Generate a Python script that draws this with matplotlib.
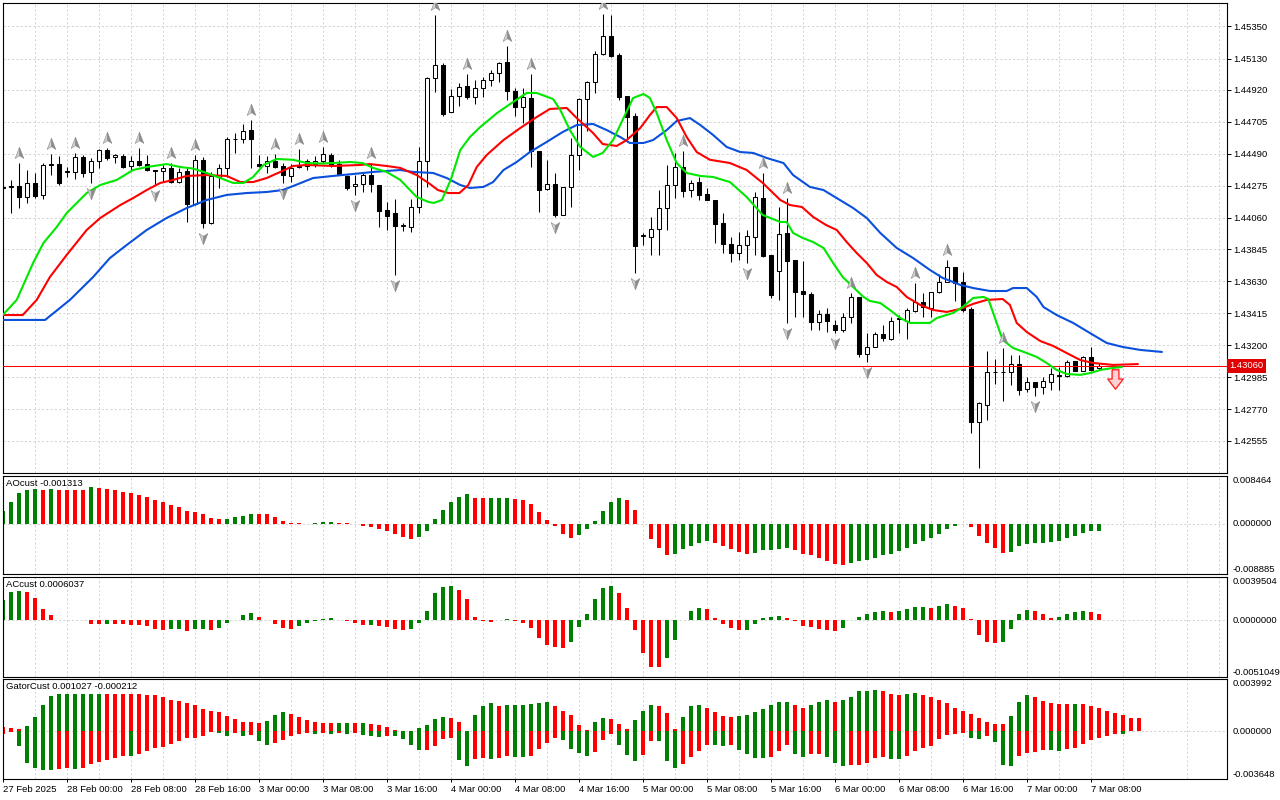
"""
EURUSD-style H1 chart: candles + alligator + fractals, with AO, AC and Gator panes
"""
import numpy as np
import matplotlib
matplotlib.use("Agg")
import matplotlib.pyplot as plt
from matplotlib.path import Path
from matplotlib import transforms

# ---- candles (one per hour, first bar = 27 Feb 16:00) ----
opens = [
    1.44262, 1.44268, 1.44272, 1.44196, 1.44290, 1.44212, 1.44414, 1.44420, 1.44369, 1.44369,
    1.44468, 1.44369, 1.44438, 1.44513, 1.44465, 1.44477, 1.44407, 1.44438, 1.44418, 1.44378,
    1.44373, 1.44391, 1.44301, 1.44373, 1.44149, 1.44447, 1.44021, 1.44335, 1.44391, 1.44587,
    1.44587, 1.44649, 1.44420, 1.44407, 1.44441, 1.44407, 1.44342, 1.44409, 1.44407, 1.44418,
    1.44438, 1.44481, 1.44420, 1.44342, 1.44272, 1.44284, 1.44346, 1.44279, 1.44111, 1.44088,
    1.44005, 1.43998, 1.44129, 1.44438, 1.44997, 1.45087, 1.44768, 1.44881, 1.44946, 1.44874,
    1.44930, 1.44984, 1.45031, 1.45107, 1.44914, 1.44802, 1.44863, 1.44508, 1.44250, 1.44286,
    1.44077, 1.44263, 1.44481, 1.44858, 1.44975, 1.45161, 1.45283, 1.45155, 1.44878, 1.44744,
    1.43936, 1.43927, 1.43980, 1.44122, 1.44279, 1.44398, 1.44245, 1.44299, 1.44218, 1.44178,
    1.44025, 1.43880, 1.43819, 1.43875, 1.43931, 1.44189, 1.43808, 1.43702, 1.43954, 1.43774,
    1.43565, 1.43543, 1.43354, 1.43408, 1.43336, 1.43300, 1.43392, 1.43527, 1.43141, 1.43191,
    1.43274, 1.43240, 1.43379, 1.43366, 1.43433, 1.43489, 1.43453, 1.43556, 1.43628, 1.43725,
    1.43628, 1.43442, 1.42685, 1.42798, 1.43022, 1.43022, 1.43022, 1.43071, 1.42903, 1.42950,
    1.42921, 1.42954, 1.42995, 1.42995, 1.43094, 1.43029, 1.43119, 1.43045,
]
highs = [
    1.44268, 1.44313, 1.44425, 1.44380, 1.44358, 1.44425, 1.44488, 1.44477, 1.44403, 1.44492,
    1.44481, 1.44459, 1.44522, 1.44526, 1.44488, 1.44488, 1.44474, 1.44526, 1.44481, 1.44380,
    1.44414, 1.44430, 1.44391, 1.44391, 1.44481, 1.44470, 1.44369, 1.44420, 1.44605, 1.44627,
    1.44690, 1.44717, 1.44480, 1.44474, 1.44488, 1.44425, 1.44420, 1.44522, 1.44454, 1.44474,
    1.44537, 1.44497, 1.44447, 1.44346, 1.44346, 1.44358, 1.44425, 1.44279, 1.44167, 1.44185,
    1.44021, 1.44185, 1.44537, 1.45009, 1.45424, 1.45098, 1.44923, 1.44964, 1.45027, 1.44986,
    1.45009, 1.45054, 1.45110, 1.45215, 1.44930, 1.44930, 1.45027, 1.44508, 1.44447, 1.44358,
    1.44263, 1.44593, 1.44863, 1.44982, 1.45184, 1.45430, 1.45424, 1.45166, 1.44878, 1.44762,
    1.43958, 1.44066, 1.44245, 1.44414, 1.44492, 1.44505, 1.44313, 1.44335, 1.44257, 1.44178,
    1.44088, 1.43927, 1.43965, 1.43976, 1.44234, 1.44358, 1.43808, 1.44133, 1.44189, 1.43774,
    1.43767, 1.43561, 1.43437, 1.43449, 1.43370, 1.43415, 1.43550, 1.43527, 1.43280, 1.43292,
    1.43336, 1.43392, 1.43404, 1.43449, 1.43617, 1.43550, 1.43561, 1.43680, 1.43774, 1.43729,
    1.43696, 1.43460, 1.42820, 1.43160, 1.43105, 1.43178, 1.43134, 1.43134, 1.42988, 1.42950,
    1.42988, 1.43045, 1.43056, 1.43101, 1.43096, 1.43128, 1.43190, 1.43078,
]
lows = [
    1.44255, 1.44088, 1.44122, 1.44156, 1.44189, 1.44185, 1.44346, 1.44279, 1.44335, 1.44319,
    1.44335, 1.44290, 1.44391, 1.44447, 1.44425, 1.44391, 1.44380, 1.44407, 1.44376, 1.44280,
    1.44301, 1.44290, 1.44290, 1.44032, 1.44144, 1.43987, 1.44016, 1.44257, 1.44335, 1.44497,
    1.44560, 1.44391, 1.44403, 1.44358, 1.44391, 1.44295, 1.44301, 1.44391, 1.44380, 1.44403,
    1.44425, 1.44403, 1.44346, 1.44245, 1.44212, 1.44234, 1.44234, 1.43998, 1.43976, 1.43673,
    1.43971, 1.43965, 1.44088, 1.44268, 1.44908, 1.44746, 1.44768, 1.44811, 1.44858, 1.44825,
    1.44869, 1.44946, 1.44975, 1.44852, 1.44744, 1.44699, 1.44403, 1.44095, 1.44245, 1.44066,
    1.44077, 1.44129, 1.44380, 1.44645, 1.44896, 1.45155, 1.45143, 1.44852, 1.44593, 1.43684,
    1.43875, 1.43808, 1.43808, 1.43976, 1.44189, 1.44200, 1.44196, 1.44178, 1.44178, 1.43891,
    1.43819, 1.43763, 1.43774, 1.43752, 1.43808, 1.43796, 1.43520, 1.43505, 1.43348, 1.43388,
    1.43388, 1.43303, 1.43303, 1.43292, 1.43280, 1.43292, 1.43348, 1.43119, 1.43089, 1.43186,
    1.43231, 1.43236, 1.43280, 1.43242, 1.43426, 1.43393, 1.43393, 1.43550, 1.43624, 1.43500,
    1.43422, 1.42607, 1.42371, 1.42697, 1.42939, 1.42827, 1.42932, 1.42865, 1.42887, 1.42855,
    1.42872, 1.42899, 1.42899, 1.42988, 1.43029, 1.43024, 1.43027, 1.43033,
]
closes = [
    1.44265, 1.44270, 1.44196, 1.44290, 1.44207, 1.44414, 1.44418, 1.44295, 1.44372, 1.44468,
    1.44362, 1.44438, 1.44513, 1.44463, 1.44479, 1.44398, 1.44438, 1.44414, 1.44380, 1.44375,
    1.44391, 1.44301, 1.44369, 1.44149, 1.44447, 1.44021, 1.44342, 1.44391, 1.44587, 1.44590,
    1.44643, 1.44587, 1.44405, 1.44438, 1.44403, 1.44346, 1.44391, 1.44403, 1.44438, 1.44443,
    1.44488, 1.44416, 1.44353, 1.44261, 1.44286, 1.44346, 1.44284, 1.44106, 1.44073, 1.44005,
    1.44008, 1.44129, 1.44438, 1.45002, 1.45087, 1.44757, 1.44881, 1.44937, 1.44869, 1.44930,
    1.44984, 1.45031, 1.45098, 1.44914, 1.44802, 1.44869, 1.44508, 1.44245, 1.44284, 1.44077,
    1.44263, 1.44481, 1.44858, 1.44975, 1.45161, 1.45283, 1.45150, 1.44874, 1.44739, 1.43871,
    1.43940, 1.43980, 1.44122, 1.44279, 1.44398, 1.44241, 1.44295, 1.44212, 1.44178, 1.44016,
    1.43880, 1.43819, 1.43875, 1.43936, 1.44196, 1.43801, 1.43538, 1.43947, 1.43770, 1.43561,
    1.43543, 1.43354, 1.43408, 1.43366, 1.43300, 1.43392, 1.43527, 1.43141, 1.43191, 1.43274,
    1.43247, 1.43366, 1.43381, 1.43437, 1.43494, 1.43456, 1.43556, 1.43628, 1.43725, 1.43621,
    1.43437, 1.42685, 1.42809, 1.43022, 1.43018, 1.43018, 1.43071, 1.42899, 1.42950, 1.42921,
    1.42959, 1.43004, 1.42999, 1.43085, 1.43029, 1.43119, 1.43033, 1.43060,
]
current_price = 1.43060

# fractal bars (arrow above the high / below the low)
fractal_up = [2, 6, 9, 13, 17, 21, 24, 31, 34, 37, 40, 46, 54, 58, 63, 66, 75, 85, 95, 98,
              106, 114, 118, 125]
fractal_down = [11, 19, 25, 35, 44, 49, 69, 79, 93, 98, 104, 108, 129]

# sell signal arrow beyond the last bar
signal_bar = 139
signal_price = 1.42972

# ---- alligator lines (bar position, price) ----
jaw_x = [0, 5.3, 8.4, 11.3, 13.4, 15.5, 18, 20.5, 23, 25.5, 28, 30.5, 33, 35, 36.3, 38.8,
         41.3, 43.8, 46.3, 49.7, 51.3, 53.8, 55.5, 57.2, 58.4, 60.1, 61.3, 62.6, 64.25, 65.9,
         68, 70, 71.75, 73.8, 75.5, 77.2, 78.4, 80.1, 81.3, 83, 84.25, 85.9, 87.2, 88.8, 90.5,
         92.2, 93.8, 95.5, 97.6, 98.8, 100.9, 102.6, 104.25, 106.3, 108, 109.7, 111.75, 113.8,
         115.9, 117.5, 119.7, 121.3, 123.4, 125.5, 126.3, 128, 129.25, 130.1, 131.75, 133.8,
         135.9, 138, 140, 142.2, 145]
jaw_y = [1.43370, 1.43370, 1.43505, 1.43659, 1.43787, 1.43875, 1.43976, 1.44057, 1.44124,
         1.44178, 1.44212, 1.44225, 1.44232, 1.44245, 1.44272, 1.44326, 1.44340, 1.44353,
         1.44367, 1.44380, 1.44367, 1.44360, 1.44326, 1.44279, 1.44259, 1.44266, 1.44299,
         1.44380, 1.44434, 1.44501, 1.44569, 1.44636, 1.44683, 1.44690, 1.44649, 1.44602,
         1.44562, 1.44562, 1.44582, 1.44649, 1.44710, 1.44730, 1.44683, 1.44616, 1.44535,
         1.44501, 1.44495, 1.44461, 1.44427, 1.44346, 1.44266, 1.44245, 1.44191, 1.44124,
         1.44057, 1.43956, 1.43855, 1.43787, 1.43707, 1.43653, 1.43606, 1.43585, 1.43565,
         1.43565, 1.43585, 1.43585, 1.43525, 1.43457, 1.43403, 1.43350, 1.43282, 1.43215,
         1.43188, 1.43168, 1.43154]

teeth_x = [0, 2.5, 4.25, 5.9, 8, 10.5, 12.2, 14.7, 16.3, 18, 19.7, 21.3, 23, 25.5, 28, 29.7,
           31.3, 33, 34.7, 36.3, 38, 41.3, 44.7, 45.9, 48, 49.7, 51.75, 53.4, 54.4, 55.7, 57.1,
           58.2, 59.25, 60.5, 62.6, 64.7, 66.75, 68.4, 70.5, 71.75, 73.8, 75, 76.75, 78, 79.7,
           80.9, 81.75, 83, 84.25, 85.5, 86.75, 88.4, 90.9, 93, 95, 97.2, 98.4, 99.9, 101.3,
           102.9, 104.25, 105.5, 106.75, 108, 109.25, 110.5, 111.75, 113, 114.7, 116.3, 118,
           119.7, 121.3, 123, 125, 125.9, 126.75, 128, 129.7, 131.3, 133, 134.7, 136.3, 138.8,
           142]
teeth_y = [1.43403, 1.43403, 1.43505, 1.43659, 1.43808, 1.43976, 1.44057, 1.44144, 1.44191,
           1.44245, 1.44293, 1.44313, 1.44340, 1.44346, 1.44340, 1.44299, 1.44299, 1.44326,
           1.44367, 1.44407, 1.44414, 1.44407, 1.44414, 1.44420, 1.44407, 1.44394, 1.44346,
           1.44286, 1.44245, 1.44225, 1.44225, 1.44279, 1.44400, 1.44481, 1.44582, 1.44663,
           1.44737, 1.44791, 1.44798, 1.44730, 1.44629, 1.44555, 1.44542, 1.44582, 1.44663,
           1.44750, 1.44804, 1.44804, 1.44730, 1.44602, 1.44501, 1.44449, 1.44427, 1.44380,
           1.44293, 1.44178, 1.44144, 1.44131, 1.44064, 1.44010, 1.43976, 1.43895, 1.43821,
           1.43754, 1.43673, 1.43626, 1.43592, 1.43525, 1.43471, 1.43437, 1.43424, 1.43444,
           1.43478, 1.43505, 1.43511, 1.43471, 1.43350, 1.43289, 1.43228, 1.43195, 1.43147,
           1.43100, 1.43080, 1.43067, 1.43073]

lips_x = [0, 1.75, 3.8, 5.1, 6.75, 8, 10.5, 12.2, 14.25, 16.3, 18, 20.5, 22.2, 23.8, 25.5,
          27.2, 28.8, 30.1, 31.3, 32.6, 34.25, 36.3, 38, 39.7, 41.3, 43.4, 45, 46.3, 48, 49.7,
          51.75, 53.2, 53.9, 54.9, 56, 57.2, 58.4, 59.7, 61.8, 63.8, 65.5, 66.75, 68.8, 69.7,
          70.9, 72.2, 73.8, 75, 76.3, 77.6, 78.8, 80.1, 80.9, 81.75, 83, 84.25, 85.5, 87.2,
          88.8, 90.9, 93, 95, 97.2, 98, 98.8, 100, 101.3, 102.6, 103.8, 105, 106.3, 107.6,
          108.4, 109.7, 110.9, 112.2, 113.4, 115.9, 116.75, 118.8, 120, 121.3, 122.6, 123.2,
          124.25, 125, 126.3, 128, 129.25, 130.5, 131.75, 133, 134.7, 136, 137.2, 138.8, 140]
lips_y = [1.43403, 1.43505, 1.43754, 1.43889, 1.43996, 1.44090, 1.44225, 1.44279, 1.44313,
          1.44380, 1.44400, 1.44420, 1.44400, 1.44390, 1.44360, 1.44326, 1.44293, 1.44293,
          1.44333, 1.44414, 1.44454, 1.44449, 1.44427, 1.44424, 1.44427, 1.44434, 1.44427,
          1.44394, 1.44367, 1.44313, 1.44198, 1.44165, 1.44158, 1.44178, 1.44313, 1.44515,
          1.44602, 1.44670, 1.44764, 1.44838, 1.44899, 1.44899, 1.44858, 1.44784, 1.44649,
          1.44535, 1.44468, 1.44495, 1.44582, 1.44730, 1.44865, 1.44892, 1.44865, 1.44764,
          1.44582, 1.44427, 1.44360, 1.44340, 1.44333, 1.44299, 1.44198, 1.44077, 1.44030,
          1.44030, 1.43956, 1.43922, 1.43895, 1.43855, 1.43754, 1.43659, 1.43592, 1.43525,
          1.43498, 1.43484, 1.43437, 1.43383, 1.43350, 1.43350, 1.43383, 1.43417, 1.43457,
          1.43518, 1.43525, 1.43511, 1.43350, 1.43235, 1.43181, 1.43147, 1.43121, 1.43080,
          1.43033, 1.43006, 1.43000, 1.43013, 1.43033, 1.43047, 1.43053]

# ---- oscillators ----
ao = [
    0.00234, 0.00391, 0.00543, 0.00602, 0.00604, 0.00601, 0.00605, 0.00601, 0.00598, 0.00596,
    0.00594, 0.00648, 0.00631, 0.00619, 0.00602, 0.00566, 0.00543, 0.00508, 0.00479, 0.00426,
    0.00391, 0.00333, 0.00292, 0.00234, 0.00199, 0.00164, 0.00105, 0.00076, 0.00093, 0.00111,
    0.00140, 0.00175, 0.00172, 0.00164, 0.00111, 0.00053, 0.00018, 0.00015, 0.00005, 0.00008,
    0.00035, 0.00036, 0.00018, 0.00015, 0.00002, -0.00041, -0.00058, -0.00088, -0.00134, -0.00187,
    -0.00234, -0.00274, -0.00234, -0.00128, 0.00088, 0.00245, 0.00391, 0.00467, 0.00526, 0.00456,
    0.00450, 0.00454, 0.00458, 0.00460, 0.00438, 0.00426, 0.00350, 0.00204, 0.00070, -0.00047,
    -0.00187, -0.00257, -0.00193, -0.00099, 0.00058, 0.00234, 0.00385, 0.00456, 0.00421, 0.00245,
    -0.00005, -0.00263, -0.00432, -0.00555, -0.00537, -0.00450, -0.00397, -0.00345, -0.00310, -0.00345,
    -0.00397, -0.00450, -0.00502, -0.00537, -0.00520, -0.00467, -0.00462, -0.00450, -0.00432, -0.00467,
    -0.00537, -0.00555, -0.00607, -0.00660, -0.00712, -0.00730, -0.00695, -0.00660, -0.00642, -0.00607,
    -0.00555, -0.00537, -0.00485, -0.00432, -0.00362, -0.00310, -0.00257, -0.00187, -0.00099, -0.00047,
    -0.00012, -0.00064, -0.00222, -0.00345, -0.00432, -0.00520, -0.00502, -0.00397, -0.00362, -0.00345,
    -0.00343, -0.00327, -0.00310, -0.00257, -0.00222, -0.00169, -0.00134, -0.001313,
]
ac = [
    0.00185, 0.00255, 0.00264, 0.00262, 0.00201, 0.00100, 0.00046, 0.00009, 0.00003, 0.00004,
    0.00001, -0.00033, -0.00035, -0.00033, -0.00034, -0.00036, -0.00043, -0.00044, -0.00052, -0.00079,
    -0.00082, -0.00080, -0.00078, -0.00097, -0.00080, -0.00078, -0.00088, -0.00070, -0.00025, 0.00002,
    0.00046, 0.00064, 0.00036, 0.00001, -0.00033, -0.00070, -0.00079, -0.00052, -0.00025, -0.00006,
    0.00018, 0.00027, 0.00001, -0.00001, -0.00024, -0.00043, -0.00042, -0.00052, -0.00061, -0.00079,
    -0.00088, -0.00079, -0.00024, 0.00082, 0.00246, 0.00307, 0.00316, 0.00274, 0.00192, 0.00036,
    -0.00009, -0.00010, 0.00001, 0.00018, -0.00002, -0.00024, -0.00070, -0.00161, -0.00225, -0.00240,
    -0.00249, -0.00195, -0.00061, 0.00055, 0.00192, 0.00292, 0.00316, 0.00246, 0.00109, -0.00088,
    -0.00295, -0.00423, -0.00425, -0.00340, -0.00179, 0.00001, 0.00082, 0.00109, 0.00100, 0.00027,
    -0.00033, -0.00070, -0.00088, -0.00086, -0.00033, 0.00027, 0.00036, 0.00038, 0.00027, -0.00002,
    -0.00052, -0.00061, -0.00079, -0.00088, -0.00097, -0.00070, 0.00001, 0.00036, 0.00055, 0.00073,
    0.00082, 0.00073, 0.00082, 0.00100, 0.00119, 0.00120, 0.00118, 0.00128, 0.00146, 0.00128,
    0.00109, 0.00018, -0.00134, -0.00198, -0.00207, -0.00198, -0.00079, 0.00055, 0.00091, 0.00082,
    0.00055, 0.00027, 0.00036, 0.00055, 0.00073, 0.00082, 0.00080, 0.0006037,
]
gator_up = [
    0.00033, 0.00023, 0.00022, 0.00038, 0.00110, 0.00199, 0.00270, 0.00283, 0.00284, 0.00285,
    0.00286, 0.00287, 0.00288, 0.00287, 0.00286, 0.00285, 0.00284, 0.00283, 0.00282, 0.00280,
    0.00267, 0.00242, 0.00232, 0.00216, 0.00199, 0.00173, 0.00153, 0.00145, 0.00117, 0.00094,
    0.00074, 0.00069, 0.00066, 0.00082, 0.00122, 0.00150, 0.00132, 0.00107, 0.00084, 0.00071,
    0.00066, 0.00061, 0.00062, 0.00063, 0.00061, 0.00062, 0.00060, 0.00046, 0.00031, 0.00008,
    0.00002, 0.00003, 0.00023, 0.00046, 0.00092, 0.00107, 0.00106, 0.00069, 0.00001, 0.00122,
    0.00191, 0.00214, 0.00191, 0.00199, 0.00200, 0.00206, 0.00207, 0.00214, 0.00222, 0.00191,
    0.00160, 0.00122, 0.00046, 0.00008, 0.00069, 0.00099, 0.00098, 0.00053, 0.00015, 0.00084,
    0.00153, 0.00199, 0.00191, 0.00138, 0.00015, 0.00107, 0.00191, 0.00206, 0.00176, 0.00145,
    0.00115, 0.00107, 0.00115, 0.00122, 0.00145, 0.00168, 0.00206, 0.00222, 0.00229, 0.00206,
    0.00176, 0.00199, 0.00222, 0.00237, 0.00229, 0.00238, 0.00267, 0.00306, 0.00313, 0.00320,
    0.00310, 0.00290, 0.00282, 0.00290, 0.00297, 0.00282, 0.00264, 0.00241, 0.00221, 0.00182,
    0.00159, 0.00136, 0.00103, 0.00072, 0.00054, 0.00053, 0.00121, 0.00228, 0.00282, 0.00264,
    0.00231, 0.00215, 0.00208, 0.00207, 0.00213, 0.00212, 0.00197, 0.00179, 0.00156, 0.00138,
    0.00123, 0.00105, 0.001027,
]
gator_down = [
    -0.00018, -0.00005, -0.00112, -0.00239, -0.00280, -0.00295, -0.00296, -0.00288, -0.00278, -0.00288,
    -0.00280, -0.00247, -0.00232, -0.00216, -0.00201, -0.00186, -0.00188, -0.00171, -0.00153, -0.00127,
    -0.00120, -0.00099, -0.00076, -0.00053, -0.00048, -0.00036, -0.00006, -0.00010, -0.00036, -0.00015,
    -0.00036, -0.00030, -0.00074, -0.00104, -0.00092, -0.00069, -0.00036, -0.00023, -0.00015, -0.00018,
    -0.00013, -0.00020, -0.00015, -0.00022, -0.00013, -0.00030, -0.00038, -0.00046, -0.00033, -0.00036,
    -0.00059, -0.00104, -0.00143, -0.00142, -0.00112, -0.00059, -0.00051, -0.00222, -0.00265, -0.00214,
    -0.00206, -0.00214, -0.00206, -0.00191, -0.00199, -0.00200, -0.00191, -0.00138, -0.00092, -0.00053,
    -0.00069, -0.00138, -0.00168, -0.00191, -0.00160, -0.00069, -0.00023, -0.00107, -0.00183, -0.00229,
    -0.00183, -0.00076, -0.00077, -0.00229, -0.00283, -0.00252, -0.00199, -0.00153, -0.00107, -0.00108,
    -0.00115, -0.00107, -0.00145, -0.00176, -0.00206, -0.00207, -0.00199, -0.00153, -0.00107, -0.00177,
    -0.00200, -0.00177, -0.00172, -0.00195, -0.00241, -0.00262, -0.00261, -0.00259, -0.00241, -0.00203,
    -0.00195, -0.00213, -0.00215, -0.00185, -0.00149, -0.00126, -0.00110, -0.00056, -0.00031, -0.00023,
    -0.00015, -0.00054, -0.00059, -0.00038, -0.00082, -0.00254, -0.00262, -0.00185, -0.00169, -0.00156,
    -0.00141, -0.00144, -0.00154, -0.00138, -0.00126, -0.00100, -0.00069, -0.00053, -0.00038, -0.00020,
    -0.000212,
]

# ---- axes scales and labels ----
price_ticks = [1.45350, 1.45130, 1.44920, 1.44705, 1.44490, 1.44275, 1.44060, 1.43845,
               1.43630, 1.43415, 1.43200, 1.42985, 1.42770, 1.42555]
price_range = (1.42337, 1.45507)
ao_range = (-0.008885, 0.008464)
ac_range = (-0.0051049, 0.0039504)
gator_range = (-0.003648, 0.003992)
time_labels = ["27 Feb 2025", "28 Feb 00:00", "28 Feb 08:00", "28 Feb 16:00", "3 Mar 00:00",
               "3 Mar 08:00", "3 Mar 16:00", "4 Mar 00:00", "4 Mar 08:00", "4 Mar 16:00",
               "5 Mar 00:00", "5 Mar 08:00", "5 Mar 16:00", "6 Mar 00:00", "6 Mar 08:00",
               "6 Mar 16:00", "7 Mar 00:00", "7 Mar 08:00"]

GREEN = "#008000"
RED = "#ff0000"
GRID = "#d2d2d2"
FS = 6.8

plt.rcParams["font.family"] = ["Liberation Sans", "DejaVu Sans"]
plt.rcParams["font.size"] = FS

W, H = 1280, 800
LEFT, RIGHT = 2.7, 1227.3
XMAX = (RIGHT - LEFT) / 8.0  # 8 px per bar


def panel(fig, top, bottom):
    return fig.add_axes([LEFT / W, 1 - bottom / H, (RIGHT - LEFT) / W, (bottom - top) / H])


def base_style(ax, ylim):
    ax.set_xlim(0, XMAX)
    ax.set_ylim(*ylim)
    ax.set_xticks(np.arange(0, XMAX, 8))
    ax.set_xticks(np.arange(4, XMAX, 8), minor=True)
    ax.grid(True, which="both", axis="x", color=GRID, ls=(0, (2.2, 2.2)), lw=0.7)
    ax.tick_params(axis="x", which="both", length=0, labelbottom=False)
    ax.yaxis.tick_right()
    ax.set_axisbelow(True)
    for s in ax.spines.values():
        s.set_linewidth(0.8)


def osc_axis(ax, ylim, fmt):
    lo, hi = ylim
    ax.set_yticks([lo, 0.0, hi])
    ax.set_yticklabels([fmt.format(lo), fmt.format(0.0), fmt.format(hi)])
    ax.tick_params(axis="y", length=0, pad=3.9, labelsize=FS)
    for tick, va in zip(ax.yaxis.get_major_ticks(), ["bottom", "center", "top"]):
        tick.label2.set_verticalalignment(va)
    ax.axhline(0, color=GRID, ls=(0, (2.2, 2.2)), lw=0.7, zorder=0)


def change_colors(values, first, use_abs=False):
    v = np.abs(values) if use_abs else np.asarray(values)
    cols = [first]
    for a, b in zip(v[:-1], v[1:]):
        cols.append(GREEN if b > a else RED)
    return cols


def pane_title(ax, text):
    ax.annotate(text, xy=(0, 1), xycoords="axes fraction", xytext=(3, -3),
                textcoords="offset pixels", ha="left", va="top", fontsize=FS)


def main():
    fig = plt.figure(figsize=(W / 100, H / 100), dpi=100, facecolor="white")

    ax = panel(fig, 2.7, 473.3)
    ax_ao = panel(fig, 475.7, 574.3)
    ax_ac = panel(fig, 577.0, 676.7)
    ax_g = panel(fig, 679.3, 779.0)

    # ---- price pane ----
    base_style(ax, price_range)
    ax.set_yticks(price_ticks)
    ax.set_yticklabels([f"{p:.5f}" for p in price_ticks])
    ax.tick_params(axis="y", length=2.9, width=0.7, pad=1.2, labelsize=FS)
    ax.grid(True, axis="y", color=GRID, ls=(0, (2.2, 2.2)), lw=0.7)

    o, h, l, c = map(np.array, (opens, highs, lows, closes))
    idx = np.arange(len(o))
    ax.vlines(idx, l, h, color="black", lw=0.75, zorder=2)
    bull = c >= o
    ax.bar(idx, np.abs(c - o), bottom=np.minimum(o, c), width=0.5,
           color=np.where(bull, "white", "black"), edgecolor="black", lw=0.75, zorder=3)

    ax.plot(jaw_x, jaw_y, color="#0a50dc", lw=1.5, zorder=4, solid_capstyle="butt")
    ax.plot(teeth_x, teeth_y, color="#ff0000", lw=1.5, zorder=4, solid_capstyle="butt")
    ax.plot(lips_x, lips_y, color="#00e800", lw=1.5, zorder=4, solid_capstyle="butt")

    ax.axhline(current_price, color=RED, lw=0.75, zorder=3.5)
    ax.text(1.0 + 2 / (RIGHT - LEFT), current_price, f"{current_price:.5f}",
            transform=ax.get_yaxis_transform(), ha="left", va="center", color="white",
            fontsize=FS, clip_on=False, zorder=10,
            bbox=dict(boxstyle="square,pad=0.22", fc="#e00000", ec="none"))

    # fractal arrows: two shaded halves
    left_up = Path([(0, 1), (-0.7, -0.8), (0, -0.35), (0, 1)],
                   [Path.MOVETO, Path.LINETO, Path.LINETO, Path.CLOSEPOLY])
    right_up = Path([(0, 1), (0.7, -0.8), (0, -0.35), (0, 1)],
                    [Path.MOVETO, Path.LINETO, Path.LINETO, Path.CLOSEPOLY])
    left_dn = Path([(0, -1), (-0.7, 0.8), (0, 0.35), (0, -1)],
                   [Path.MOVETO, Path.LINETO, Path.LINETO, Path.CLOSEPOLY])
    right_dn = Path([(0, -1), (0.7, 0.8), (0, 0.35), (0, -1)],
                    [Path.MOVETO, Path.LINETO, Path.LINETO, Path.CLOSEPOLY])
    up_tr = transforms.offset_copy(ax.transData, fig=fig, x=0, y=10, units="dots")
    dn_tr = transforms.offset_copy(ax.transData, fig=fig, x=0, y=-10, units="dots")
    hi_f = h[fractal_up]
    lo_f = l[fractal_down]
    for mk, col in ((left_up, "#cfcfcf"), (right_up, "#8c8c8c")):
        ax.plot(fractal_up, hi_f, ls="none", marker=mk, ms=9, mfc=col, mec="#8c8c8c",
                mew=0.4, transform=up_tr, zorder=5)
    for mk, col in ((left_dn, "#cfcfcf"), (right_dn, "#8c8c8c")):
        ax.plot(fractal_down, lo_f, ls="none", marker=mk, ms=9, mfc=col, mec="#8c8c8c",
                mew=0.4, transform=dn_tr, zorder=5)

    block_down = Path([(-0.35, 1), (0.35, 1), (0.35, 0.05), (0.8, 0.05), (0, -1),
                       (-0.8, 0.05), (-0.35, 0.05), (-0.35, 1)])
    ax.plot([signal_bar], [signal_price], ls="none", marker=block_down, ms=14,
            mfc="#ffd2d2", mec="#ff2a2a", mew=1.0, zorder=6)

    # ---- AO ----
    base_style(ax_ao, ao_range)
    osc_axis(ax_ao, ao_range, "{:.6f}")
    ax_ao.bar(np.arange(len(ao)), ao, width=0.55, lw=0,
              color=change_colors(ao, GREEN), zorder=2)
    pane_title(ax_ao, f"AOcust {ao[-1]:.6f}")

    # ---- AC ----
    base_style(ax_ac, ac_range)
    osc_axis(ax_ac, ac_range, "{:.7f}")
    ax_ac.bar(np.arange(len(ac)), ac, width=0.55, lw=0,
              color=change_colors(ac, GREEN), zorder=2)
    pane_title(ax_ac, f"ACcust {ac[-1]:.7f}")

    # ---- Gator ----
    base_style(ax_g, gator_range)
    osc_axis(ax_g, gator_range, "{:.6f}")
    ax_g.bar(np.arange(len(gator_up)), gator_up, width=0.55, lw=0,
             color=change_colors(gator_up, RED), zorder=2)
    ax_g.bar(np.arange(len(gator_down)), gator_down, width=0.55, lw=0,
             color=change_colors(gator_down, RED, use_abs=True), zorder=2)
    pane_title(ax_g, f"GatorCust {gator_up[-1]:.6f} {gator_down[-1]:.6f}")

    ax_g.set_xticks(np.arange(0, 8 * len(time_labels), 8))
    ax_g.set_xticklabels(time_labels, ha="left")
    ax_g.tick_params(axis="x", which="major", length=2.5, width=0.7, pad=1.5,
                     labelbottom=True, labelsize=FS)

    fig.savefig("out.png", dpi=100, facecolor="white")


if __name__ == "__main__":
    main()
